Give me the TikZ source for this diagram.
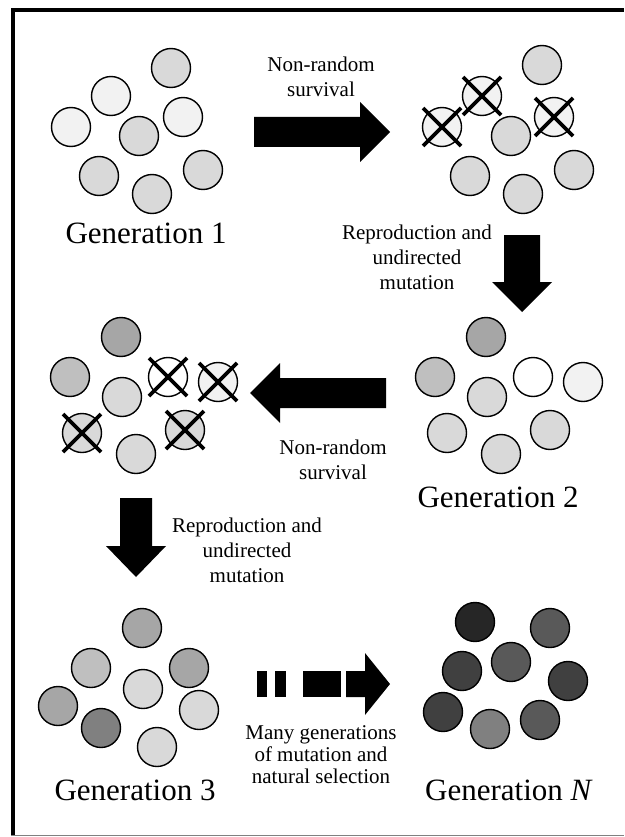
\documentclass[tikz,border=0pt]{standalone}
\usepackage{fontspec}
\setmainfont{Liberation Serif}
\usetikzlibrary{calc}
\definecolor{toneA}{HTML}{F2F2F2}
\definecolor{toneB}{HTML}{D9D9D9}
\definecolor{toneC}{HTML}{BFBFBF}
\definecolor{toneD}{HTML}{A6A6A6}
\definecolor{toneE}{HTML}{808080}
\definecolor{toneF}{HTML}{595959}
\definecolor{toneG}{HTML}{404040}
\definecolor{toneH}{HTML}{262626}
\begin{document}
\begin{tikzpicture}[x=1pt,y=-1pt,
  cell/.style={circle, draw=black, line width=1.4pt, minimum size=39pt, inner sep=0pt},
  crossline/.style={line width=3.6pt},
  blockarrow/.style={fill=black},
  gen/.style={font=\fontsize{31}{37}\selectfont, inner sep=0pt, anchor=base},
  note/.style={font=\fontsize{21}{25}\selectfont, align=center, inner sep=0pt},
]
\useasboundingbox (0,0) rectangle (624,837);
% frame
\draw[line width=4pt] (13,835) -- (13,10) -- (624,10);
\draw[gray, line width=1pt] (11,835.5) -- (624,835.5);

% Generation 1
\node[cell, fill=toneB] (a1) at (171,68) {};
\node[cell, fill=toneA] (a2) at (111,96) {};
\node[cell, fill=toneA] (a3) at (71,127) {};
\node[cell, fill=toneA] (a4) at (183,117) {};
\node[cell, fill=toneB] (a5) at (139,136) {};
\node[cell, fill=toneB] (a6) at (99,176) {};
\node[cell, fill=toneB] (a7) at (152,194) {};
\node[cell, fill=toneB] (a8) at (203,170) {};
\node[gen] (lab1) at (146,243) {Generation 1};

% Generation 1 after selection
\node[cell, fill=toneB] (b1) at (542,65) {};
\node[cell, fill=toneA] (b2) at (482,96) {};
\node[cell, fill=toneA] (b3) at (442,127) {};
\node[cell, fill=toneA] (b4) at (554,117) {};
\node[cell, fill=toneB] (b5) at (511,136) {};
\node[cell, fill=toneB] (b6) at (470,176) {};
\node[cell, fill=toneB] (b7) at (523,194) {};
\node[cell, fill=toneB] (b8) at (574,170) {};
\foreach \n in {b2,b3,b4}{
  \draw[crossline] ($(\n)+(-19,-19)$) -- ($(\n)+(19,19)$);
  \draw[crossline] ($(\n)+(-19,19)$) -- ($(\n)+(19,-19)$);
}

% Generation 2
\node[cell, fill=toneD] (c1) at (486,337) {};
\node[cell, fill=toneC] (c2) at (435,377) {};
\node[cell, fill=toneB] (c3) at (487,397) {};
\node[cell, fill=white] (c4) at (533,377) {};
\node[cell, fill=toneA] (c5) at (583,382) {};
\node[cell, fill=toneB] (c6) at (447,433) {};
\node[cell, fill=toneB] (c7) at (501,454) {};
\node[cell, fill=toneB] (c8) at (550,430) {};
\node[gen] (lab2) at (498,507) {Generation 2};

% Generation 2 after selection
\node[cell, fill=toneD] (d1) at (121,337) {};
\node[cell, fill=toneC] (d2) at (70,377) {};
\node[cell, fill=toneB] (d3) at (122,397) {};
\node[cell, fill=white] (d4) at (168,377) {};
\node[cell, fill=toneA] (d5) at (218,382) {};
\node[cell, fill=toneB] (d6) at (82,433) {};
\node[cell, fill=toneB] (d7) at (136,454) {};
\node[cell, fill=toneB] (d8) at (185,430) {};
\foreach \n in {d4,d5,d6,d8}{
  \draw[crossline] ($(\n)+(-19,-19)$) -- ($(\n)+(19,19)$);
  \draw[crossline] ($(\n)+(-19,19)$) -- ($(\n)+(19,-19)$);
}

% Generation 3
\node[cell, fill=toneD] (e1) at (142,628) {};
\node[cell, fill=toneC] (e2) at (91,668) {};
\node[cell, fill=toneD] (e3) at (189,668) {};
\node[cell, fill=toneB] (e4) at (143,689) {};
\node[cell, fill=toneD] (e5) at (58,706) {};
\node[cell, fill=toneE] (e6) at (101,728) {};
\node[cell, fill=toneB] (e7) at (199,710) {};
\node[cell, fill=toneB] (e8) at (157,747) {};
\node[gen] (lab3) at (135,800) {Generation 3};

% Generation N
\node[cell, fill=toneH] (f1) at (475,622) {};
\node[cell, fill=toneF] (f2) at (550,628) {};
\node[cell, fill=toneG] (f3) at (462,671) {};
\node[cell, fill=toneF] (f4) at (511,662) {};
\node[cell, fill=toneG] (f5) at (568,681) {};
\node[cell, fill=toneG] (f6) at (443,712) {};
\node[cell, fill=toneE] (f7) at (490,729) {};
\node[cell, fill=toneF] (f8) at (540,720) {};
\node[gen] (labN) at (509,800) {Generation \textit{N}};

% block arrows
\coordinate (r1t) at (254,132); \coordinate (r1h) at (390,132);
\fill[blockarrow] ($(r1t)+(0,-15)$) -- ($(r1h)+(-30,-15)$) -- ($(r1h)+(-30,-30)$) -- (r1h)
  -- ($(r1h)+(-30,30)$) -- ($(r1h)+(-30,15)$) -- ($(r1t)+(0,15)$) -- cycle;

\coordinate (l1t) at (386,393); \coordinate (l1h) at (250,393);
\fill[blockarrow] ($(l1t)+(0,-15)$) -- ($(l1h)+(30,-15)$) -- ($(l1h)+(30,-30)$) -- (l1h)
  -- ($(l1h)+(30,30)$) -- ($(l1h)+(30,15)$) -- ($(l1t)+(0,15)$) -- cycle;

\coordinate (v1t) at (522,235); \coordinate (v1h) at (522,312);
\fill[blockarrow] ($(v1t)+(-18,0)$) -- ($(v1h)+(-18,-30)$) -- ($(v1h)+(-30,-30)$) -- (v1h)
  -- ($(v1h)+(30,-30)$) -- ($(v1h)+(18,-30)$) -- ($(v1t)+(18,0)$) -- cycle;

\coordinate (v2t) at (136,498); \coordinate (v2h) at (136,577);
\fill[blockarrow] ($(v2t)+(-16,0)$) -- ($(v2h)+(-16,-31)$) -- ($(v2h)+(-30,-31)$) -- (v2h)
  -- ($(v2h)+(30,-31)$) -- ($(v2h)+(16,-31)$) -- ($(v2t)+(16,0)$) -- cycle;

% dashed arrow
\coordinate (m1t) at (257,684); \coordinate (m1h) at (390,684);
\fill[blockarrow] ($(m1t)+(0,-13)$) rectangle ($(m1t)+(10,13)$);
\fill[blockarrow] ($(m1t)+(18,-13)$) rectangle ($(m1t)+(29,13)$);
\fill[blockarrow] ($(m1t)+(46,-13)$) rectangle ($(m1t)+(84,13)$);
\fill[blockarrow] ($(m1t)+(89,-13)$) -- ($(m1h)+(-25,-13)$) -- ($(m1h)+(-25,-31)$) -- (m1h)
  -- ($(m1h)+(-25,31)$) -- ($(m1h)+(-25,13)$) -- ($(m1t)+(89,13)$) -- cycle;

% labels
\node[note] (t1) at (321,77) {Non-random\\survival};
\node[note] (t2) at (417,257) {Reproduction and\\undirected\\mutation};
\node[note] (t3) at (333,460) {Non-random\\survival};
\node[note] (t4) at (247,550) {Reproduction and\\undirected\\mutation};
\node[note, font=\fontsize{21}{22}\selectfont] (t5) at (321,755) {Many generations\\of mutation and\\natural selection};
\end{tikzpicture}
\end{document}
